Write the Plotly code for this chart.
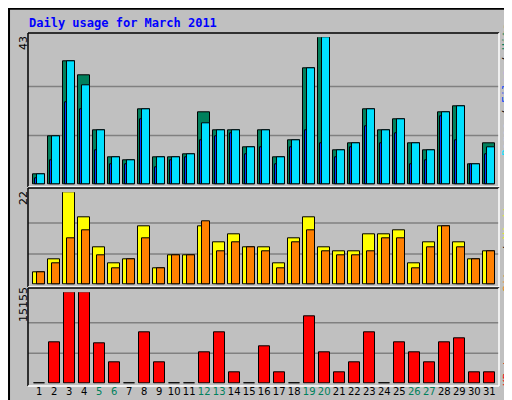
import plotly.graph_objects as go

days = list(range(1, 32))
hits  = [3,14,36,32,16,8,7,22,8,8,9,21,16,16,11,16,8,13,34,43,10,12,22,16,19,12,10,21,23,6,12]
files = [3,14,36,29,16,8,7,22,8,8,9,18,16,16,11,16,8,13,34,43,10,12,22,16,19,12,10,21,23,6,11]
pages = [2,7,24,22,10,6,6,19,5,7,8,13,14,15,9,11,6,11,16,12,8,11,17,12,15,6,7,20,13,6,9]
visits = [3,6,22,16,9,5,6,14,4,7,7,14,10,12,9,9,5,11,16,9,8,8,12,12,13,5,10,14,10,6,8]
sites  = [3,5,11,13,7,4,6,11,4,7,7,15,8,10,9,8,4,10,13,8,7,7,8,11,11,4,9,14,9,6,8]
kbytes = [0,6859,15155,15155,6693,3595,0,8518,3595,0,0,5199,8518,1936,0,6195,1936,0,11173,5199,1936,3595,8518,0,6859,5199,3595,6859,7522,1936,1936]
weekend = [5,6,12,13,19,20,26,27]
max_top, max_mid, max_bot = 43, 22, 15155

W, H = 512, 400
def py(p):
    return 1 - p / H
def px(p):
    return p / W

fig = go.Figure()
ln = dict(color="black", width=1)
def bar(y, color, off, wid, axis):
    fig.add_trace(go.Bar(x=days, y=y, offset=off, width=wid, yaxis=axis,
                         marker=dict(color=color, line=ln), showlegend=False))

bar(hits, "#00805C", -0.39, 0.76, "y")
bar(pages, "#0040FF", -0.28, 0.15, "y")
bar(files, "#00E0FF", -0.13, 0.50, "y")
bar(visits, "#FFFF00", -0.39, 0.76, "y2")
bar(sites, "#FF8000", -0.13, 0.50, "y2")
kb_disp = [max(v, max_bot * 0.004) for v in kbytes]
bar(kb_disp, "#FF0000", -0.35, 0.71, "y3")

grid = "#808080"
ax = dict(showgrid=False, zeroline=False, showticklabels=False, fixedrange=True)
fig.update_layout(
    width=W, height=H, margin=dict(l=0, r=0, t=0, b=0),
    paper_bgcolor="#C0C0C0", plot_bgcolor="rgba(0,0,0,0)",
    barmode="overlay", bargap=0,
    xaxis=dict(domain=[px(20), px(491)], range=[0.253, 31.65], showgrid=False, zeroline=False,
               anchor="y3", tickvals=days, tickangle=0, automargin=False,
               ticktext=[(f'<span style="color:#00805C">{d}</span>' if d in weekend else str(d)) for d in days],
               tickfont=dict(family="DejaVu Sans", size=10, color="black"), ticks="", ticklen=0),
    yaxis=dict(domain=[py(176.7), py(29.3)], range=[0, max_top], **ax),
    yaxis2=dict(domain=[py(276.7), py(184.3)], range=[0, max_mid], **ax),
    yaxis3=dict(domain=[py(375.7), py(284.3)], range=[0, max_bot], **ax),
)

shapes = []
for yr, m in (("y", max_top), ("y2", max_mid), ("y3", max_bot)):
    for f in (1/3, 2/3):
        shapes.append(dict(type="line", xref="paper", yref=yr, x0=px(20), x1=px(491), y0=m*f, y1=m*f,
                           line=dict(color=grid, width=1.5), layer="below"))
for t, b in ((25, 179), (180, 279), (280, 378)):
    shapes.append(dict(type="line", xref="paper", yref="paper", x0=px(20), x1=px(491), y0=py(t), y1=py(t), line=dict(color="black", width=1.5)))
    shapes.append(dict(type="line", xref="paper", yref="paper", x0=px(20), x1=px(20), y0=py(t), y1=py(b), line=dict(color="black", width=1.5)))
    shapes.append(dict(type="line", xref="paper", yref="paper", x0=px(491), x1=px(491), y0=py(t), y1=py(b), line=dict(color="white", width=1.5)))
    shapes.append(dict(type="line", xref="paper", yref="paper", x0=px(20), x1=px(491), y0=py(b), y1=py(b), line=dict(color="white", width=1.5)))
shapes.append(dict(type="rect", xref="paper", yref="paper", x0=0.002, x1=0.998, y0=0.002, y1=0.998, line=dict(color="black", width=2)))
shapes.append(dict(type="line", xref="paper", yref="paper", x0=px(4), x1=px(507), y0=py(395), y1=py(395), line=dict(color="#808080", width=2)))
shapes.append(dict(type="line", xref="paper", yref="paper", x0=px(507), x1=px(507), y0=py(4), y1=py(395), line=dict(color="#808080", width=2)))
fig.update_layout(shapes=shapes)

mono = "DejaVu Sans Mono"
dv = dict(family="DejaVu Sans", size=11, color="black")
ann = [
    dict(text="<b>Daily usage for March 2011</b>", x=px(19), y=py(15), xanchor="left", yanchor="middle",
         font=dict(family=mono, size=12, color="#0000FF")),
    dict(text=str(max_top), x=px(15), y=py(35), textangle=-90, font=dv),
    dict(text=str(max_mid), x=px(15), y=py(190), textangle=-90, font=dv),
    dict(text=str(max_bot), x=px(15), y=py(297), textangle=-90, font=dv),
    dict(text='<span style="color:#00E0FF">Pages</span> / <span style="color:#0040FF">Files</span> / <span style="color:#00805C">Hits</span>',
         x=px(499), y=py(82), textangle=-90, font=dict(family=mono, size=11, color="black")),
    dict(text='<span style="color:#FF8000">Sites</span> / <span style="color:#FFFF00">Visits</span>',
         x=px(499), y=py(238), textangle=-90, font=dict(family=mono, size=11, color="black")),
    dict(text='KBytes', x=px(499), y=py(358), textangle=-90,
         font=dict(family=mono, size=11, color="#FF0000")),
]
for a in ann:
    a.update(xref="paper", yref="paper", showarrow=False, xanchor="center", yanchor="middle") if "xanchor" not in a else a.update(xref="paper", yref="paper", showarrow=False)
fig.update_layout(annotations=ann)

fig.write_html("out.html")
